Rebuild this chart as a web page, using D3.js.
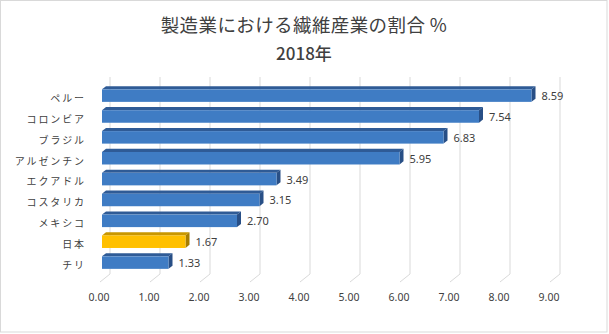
<!DOCTYPE html>
<html><head><meta charset="utf-8">
<script src="https://cdn.jsdelivr.net/npm/d3@7"></script>
<style>
html,body{margin:0;padding:0;background:#fff;}
svg{display:block;}
</style></head>
<body>
<svg id="chart" width="609" height="334"></svg>
<script>
const categories = ["ペルー","コロンビア","ブラジル","アルゼンチン","エクアドル","コスタリカ","メキシコ","日本","チリ"];
const values = [8.59,7.54,6.83,5.95,3.49,3.15,2.70,1.67,1.33];
const highlight = ["日本"];
const tickValues = [0,1,2,3,4,5,6,7,8,9];
const titleLines = ["製造業における繊維産業の割合 %","2018年"];

const svg = d3.select("#chart");

svg.append("rect").attr("x",0.5).attr("y",0.5).attr("width",606.5).attr("height",331.5)
  .attr("fill","#fff").attr("stroke","#d9d9d9").attr("stroke-width",1);

// front plane x scale
const x = d3.scaleLinear().domain([0,9]).range([100,550]);
const y = d3.scaleBand().domain(categories).range([82.6,278.8]).padding(0.4);

// 3D depth
const DX = 10, DY = -8;
const floorY = 282;
const wallTop = 77;

// back wall gridlines
svg.append("g").selectAll("line.grid").data(tickValues).join("line")
  .attr("x1",d=>x(d)+DX).attr("x2",d=>x(d)+DX)
  .attr("y1",wallTop).attr("y2",floorY+DY)
  .attr("stroke","#d9d9d9").attr("stroke-width",1);
// floor lines
svg.append("g").selectAll("line.floor").data(tickValues).join("line")
  .attr("x1",d=>x(d)).attr("x2",d=>x(d)+DX)
  .attr("y1",floorY).attr("y2",floorY+DY)
  .attr("stroke","#d9d9d9").attr("stroke-width",1);

// bars
const f0 = 0.2, f1 = 0.6;
const ox0 = DX*f0, oy0 = DY*f0, ox1 = DX*f1, oy1 = DY*f1;
const colors = {
  normal:{front:"#3f7cc4", top:"#2f5b96", side:"#284f86"},
  hi:{front:"#ffc000", top:"#c99700", side:"#a67d00"}
};
const bars = svg.append("g").selectAll("g.bar").data(categories).join("g");
bars.each(function(c,i){
  const g = d3.select(this);
  const col = highlight.includes(c) ? colors.hi : colors.normal;
  const xl = x(0)+ox0, xr = x(values[i])+ox0;
  const yt = y(c)+oy0, yb = y(c)+y.bandwidth()+oy0;
  const ddx = ox1-ox0, ddy = oy1-oy0;
  g.append("path").attr("d",`M${xl},${yt}L${xl+ddx},${yt+ddy}L${xr+ddx},${yt+ddy}L${xr},${yt}Z`)
    .attr("fill",col.top);
  g.append("path").attr("d",`M${xr},${yt}L${xr+ddx},${yt+ddy}L${xr+ddx},${yb+ddy}L${xr},${yb}Z`)
    .attr("fill",col.side);
  g.append("rect").attr("x",xl).attr("y",yt).attr("width",xr-xl).attr("height",yb-yt)
    .attr("fill",col.front);
  g.append("text").attr("x",xr+ddx+6).attr("y",(yt+yb)/2+1.5)
    .attr("dominant-baseline","middle")
    .attr("font-family","'Noto Sans', 'Open Sans', sans-serif").attr("font-size",11)
    .attr("fill","#404040").text(values[i].toFixed(2));
});

// category labels
svg.append("g").selectAll("text.cat").data(categories).join("text")
  .attr("x",86).attr("y",d=>y(d)+y.bandwidth()/2+2)
  .attr("text-anchor","end").attr("dominant-baseline","middle")
  .attr("font-family","'Noto Sans CJK JP', sans-serif").attr("font-size",10)
  .attr("letter-spacing",1.9)
  .attr("fill","#404040").text(d=>d);

// x tick labels
svg.append("g").selectAll("text.tick").data(tickValues).join("text")
  .attr("x",d=>x(d)-1).attr("y",298).attr("text-anchor","middle")
  .attr("dominant-baseline","middle")
  .attr("font-family","'Noto Sans', 'Open Sans', sans-serif").attr("font-size",10.5)
  .attr("fill","#404040").text(d=>d3.format(".2f")(d));

// title
svg.append("text").attr("x",304).attr("y",27).attr("text-anchor","middle")
  .attr("dominant-baseline","middle")
  .attr("font-family","'Noto Sans CJK JP', sans-serif").attr("font-size",18.5)
  .attr("letter-spacing",0.4)
  .attr("fill","#404040").text(titleLines[0]);
svg.append("text").attr("x",304).attr("y",55).attr("text-anchor","middle")
  .attr("dominant-baseline","middle")
  .attr("font-family","'Noto Sans CJK JP', sans-serif").attr("font-size",17).attr("font-weight",500)
  .attr("fill","#404040").text(titleLines[1]);
</script>
</body></html>
